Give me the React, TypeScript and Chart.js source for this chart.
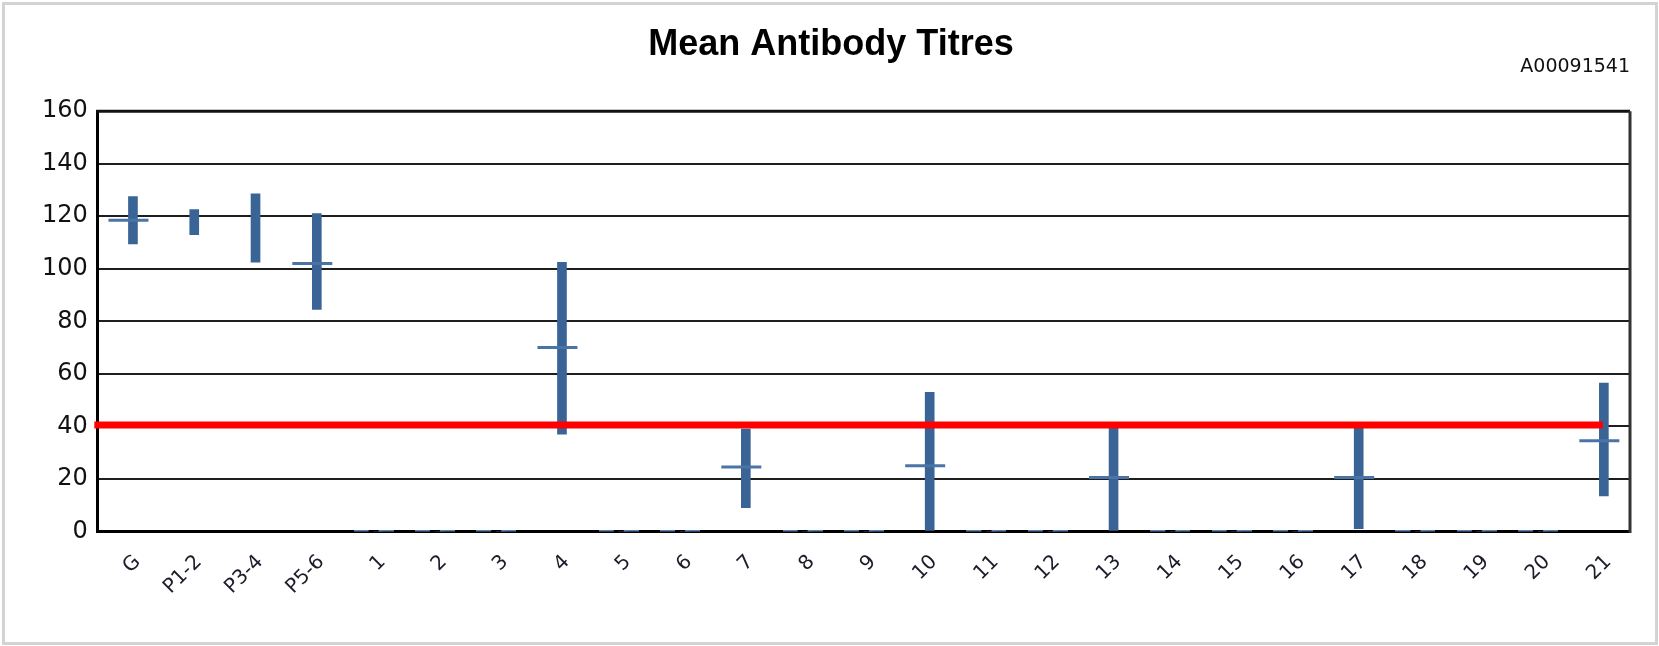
import React, { useEffect, useRef } from "react";
import { Chart, registerables } from "chart.js";

Chart.register(...registerables);

const categories = [
  "G", "P1-2", "P3-4", "P5-6",
  "1", "2", "3", "4", "5", "6", "7", "8", "9", "10",
  "11", "12", "13", "14", "15", "16", "17", "18", "19", "20", "21",
];

const lows = [
  109.5, 113, 102.5, 84.5,
  0, 0, 0, 37, 0, 0, 9, 0, 0, 0,
  0, 0, 0, 0, 0, 0, 1, 0, 0, 0, 13.5,
];

const highs = [
  127.5, 122.5, 128.5, 121,
  0, 0, 0, 102.5, 0, 0, 39, 0, 0, 53,
  0, 0, 40.5, 0, 0, 0, 40, 0, 0, 0, 56.5,
];

const means: (number | null)[] = [
  118.5, null, null, 102,
  0, 0, 0, 70, 0, 0, 24.5, 0, 0, 25,
  0, 0, 20.5, 0, 0, 0, 20.5, 0, 0, 0, 34.5,
];

const THRESHOLD = 40.5;
const yTicks = [0, 20, 40, 60, 80, 100, 120, 140, 160];

const TITLE = "Mean Antibody Titres";
const SUBTITLE = "A00091541";

const BAR_COLOR = "#3a6496";
const TICK_COLOR = "#4a74a6";

function makeZeroDash(): HTMLCanvasElement {
  const c = document.createElement("canvas");
  c.width = 40;
  c.height = 3;
  const g = c.getContext("2d")!;
  g.fillStyle = "#5a7fae";
  g.fillRect(0, 0, 15, 3);
  g.fillRect(25, 0, 15, 3);
  return c;
}

const framePlugin = {
  id: "plotFrame",
  afterDraw(chart: any) {
    const { ctx, chartArea } = chart;
    ctx.save();
    ctx.strokeStyle = "#111";
    ctx.lineWidth = 3;
    ctx.beginPath();
    ctx.moveTo(chartArea.left - 1.5, chartArea.top);
    ctx.lineTo(chartArea.right, chartArea.top);
    ctx.stroke();
    ctx.strokeStyle = "#333";
    ctx.beginPath();
    ctx.moveTo(chartArea.right, chartArea.top);
    ctx.lineTo(chartArea.right, chartArea.bottom + 1.5);
    ctx.stroke();
    ctx.restore();
  },
};

export default function App() {
  const ref = useRef<HTMLCanvasElement | null>(null);

  useEffect(() => {
    document.body.style.margin = "0";
    document.body.style.background = "#fff";
    if (!ref.current) return;
    const zeroDash = makeZeroDash();

    const chart = new Chart(ref.current, {
      type: "bar",
      data: {
        labels: categories,
        datasets: [
          {
            type: "line",
            label: "Threshold",
            xAxisID: "xl",
            yAxisID: "y",
            data: [
              { x: -0.5, y: THRESHOLD },
              { x: categories.length - 1, y: THRESHOLD },
            ],
            borderColor: "#ff0000",
            borderWidth: 7,
            borderCapStyle: "square",
            pointRadius: 0,
            fill: false,
            clip: false as any,
            order: 1,
          } as any,
          {
            type: "line",
            label: "Mean",
            xAxisID: "x",
            yAxisID: "y",
            data: means,
            showLine: false,
            pointStyle: (ctx: any) => (means[ctx.dataIndex] === 0 ? zeroDash : "line"),
            pointRadius: 20,
            pointBorderWidth: 3,
            pointBorderColor: TICK_COLOR,
            pointBackgroundColor: TICK_COLOR,
            order: 2,
          } as any,
          {
            type: "bar",
            label: "Range",
            xAxisID: "x",
            yAxisID: "y",
            data: categories.map((_, i) => [lows[i], highs[i]]),
            backgroundColor: BAR_COLOR,
            borderWidth: 0,
            barThickness: 9,
            order: 3,
          } as any,
        ],
      },
      options: {
        responsive: false,
        animation: false,
        events: [],
        layout: { padding: { left: 32, right: 29, top: 8, bottom: 28 } },
        plugins: {
          legend: { display: false },
          tooltip: { enabled: false },
          title: {
            display: true,
            text: TITLE,
            color: "#000",
            font: { family: "Liberation Sans", size: 36, weight: "bold", lineHeight: 0.7 },
            padding: { top: 24, bottom: 0 },
          },
          subtitle: {
            display: true,
            text: SUBTITLE,
            align: "end",
            color: "#111",
            font: { family: "DejaVu Sans", size: 19, lineHeight: 1.0 },
            padding: { top: 0, bottom: 35 },
          },
        },
        scales: {
          x: {
            type: "category",
            offset: true,
            grid: { display: false, drawTicks: false },
            border: { display: true, color: "#000", width: 3 },
            ticks: {
              autoSkip: false,
              minRotation: 45,
              maxRotation: 45,
              padding: 19,
              labelOffset: 9,
              color: "#1c1c2a",
              font: { family: "DejaVu Sans", size: 20 },
            },
          },
          xl: {
            type: "linear",
            display: false,
            offset: false,
            grid: { offset: false },
            min: -0.5,
            max: categories.length - 0.5,
          },
          y: {
            type: "linear",
            min: yTicks[0],
            max: yTicks[yTicks.length - 1],
            afterBuildTicks: (scale: any) => {
              scale.ticks = yTicks.map((v) => ({ value: v }));
            },
            grid: { color: "#1e1e1e", lineWidth: 2, drawTicks: false },
            border: { display: true, color: "#000", width: 3 },
            ticks: {
              padding: 10,
              color: "#111",
              font: { family: "DejaVu Sans", size: 24 },
            },
          },
        },
      },
      plugins: [framePlugin],
    } as any);

    return () => chart.destroy();
  }, []);

  return (
    <div style={{ position: "relative", width: 1659, height: 646, background: "#fff", overflow: "hidden" }}>
      <div
        style={{
          position: "absolute",
          left: 2,
          top: 2,
          width: 1650,
          height: 637,
          border: "3px solid #d3d3d3",
        }}
      />
      <canvas
        ref={ref}
        width={1659}
        height={646}
        style={{ position: "absolute", left: 0, top: 0, width: 1659, height: 646 }}
      />
    </div>
  );
}
